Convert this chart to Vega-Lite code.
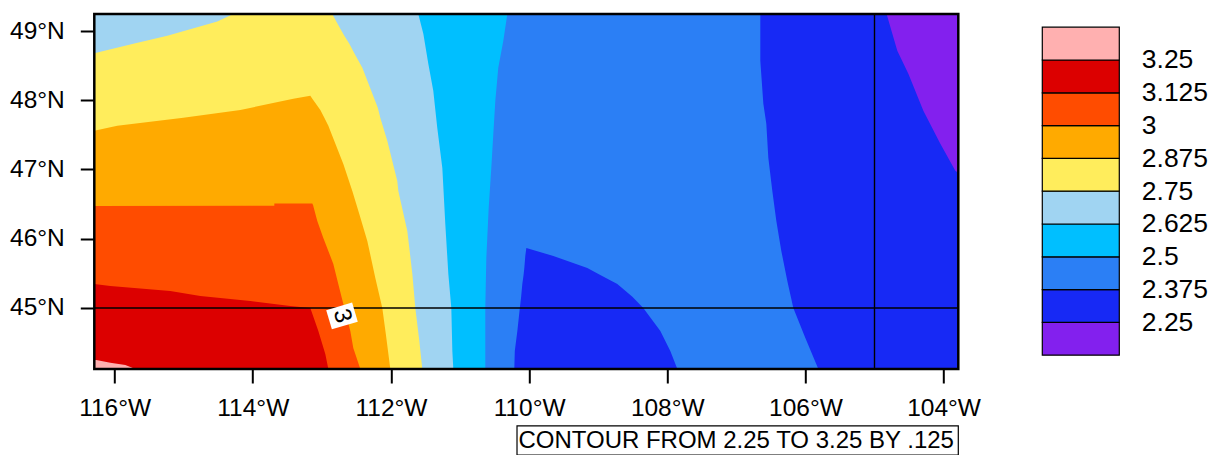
{"$schema":"https://vega.github.io/schema/vega-lite/v6.json","padding":{"left":9.3,"top":12,"right":2,"bottom":0},"background":"white","bounds":"flush","spacing":84,"config":{"font":"Liberation Sans","view":{"stroke":null}},"hconcat":[{"width":864,"height":355,"encoding":{"x":{"field":"a","type":"quantitative","title":null,"scale":{"domain":[-116.294,-103.787],"nice":false,"zero":false},"axis":{"values":[-116,-114,-112,-110,-108,-106,-104],"labelExpr":"abs(datum.value)+'°W'","grid":false,"domain":false,"tickSize":14,"tickWidth":2,"tickColor":"black","labelFontSize":24.5,"labelColor":"black","labelPadding":14,"labelFont":"Liberation Sans"}},"y":{"field":"lat","type":"quantitative","title":null,"scale":{"domain":[44.118,49.246],"nice":false,"zero":false},"axis":{"values":[45,46,47,48,49],"labelExpr":"datum.value+'°N'","grid":false,"domain":false,"tickSize":14,"tickWidth":2,"tickColor":"black","labelFontSize":24.5,"labelColor":"black","labelPadding":16,"labelFont":"Liberation Sans"}}},"layer":[{"data":{"values":[
{"r":"bg","v":2.25,"lat":49.246,"a":-116.294,"b":-103.787},{"r":"bg","v":2.25,"lat":44.118,"a":-116.294,"b":-103.787},
{"r":"purple","v":2.125,"lat":49.246,"a":-104.825,"b":-103.787},{"r":"purple","v":2.125,"lat":48.714,"a":-104.67,"b":-103.787},{"r":"purple","v":2.125,"lat":48.382,"a":-104.51,"b":-103.787},{"r":"purple","v":2.125,"lat":47.847,"a":-104.293,"b":-103.787},{"r":"purple","v":2.125,"lat":47.37,"a":-104.047,"b":-103.787},{"r":"purple","v":2.125,"lat":46.98,"a":-103.83,"b":-103.787},{"r":"purple","v":2.125,"lat":46.951,"a":-103.787,"b":-103.787},
{"r":"l2375","v":2.375,"lat":49.246,"a":-116.294,"b":-106.653},{"r":"l2375","v":2.375,"lat":48.569,"a":-116.294,"b":-106.653},{"r":"l2375","v":2.375,"lat":47.948,"a":-116.294,"b":-106.609},{"r":"l2375","v":2.375,"lat":47.659,"a":-116.294,"b":-106.566},{"r":"l2375","v":2.375,"lat":47.168,"a":-116.294,"b":-106.537},{"r":"l2375","v":2.375,"lat":46.691,"a":-116.294,"b":-106.479},{"r":"l2375","v":2.375,"lat":46.257,"a":-116.294,"b":-106.421},{"r":"l2375","v":2.375,"lat":45.824,"a":-116.294,"b":-106.349},{"r":"l2375","v":2.375,"lat":45.39,"a":-116.294,"b":-106.262},{"r":"l2375","v":2.375,"lat":45,"a":-116.294,"b":-106.175},{"r":"l2375","v":2.375,"lat":44.566,"a":-116.294,"b":-106.001},{"r":"l2375","v":2.375,"lat":44.118,"a":-116.294,"b":-105.813},
{"r":"blob","v":2.25,"lat":45.867,"a":-110.04,"b":-110.04},{"r":"blob","v":2.25,"lat":45.751,"a":-110.055,"b":-109.649},{"r":"blob","v":2.25,"lat":45.578,"a":-110.069,"b":-109.157},{"r":"blob","v":2.25,"lat":45.477,"a":-110.08,"b":-108.97},{"r":"blob","v":2.25,"lat":45.347,"a":-110.098,"b":-108.723},{"r":"blob","v":2.25,"lat":45.16,"a":-110.115,"b":-108.505},{"r":"blob","v":2.25,"lat":45,"a":-110.134,"b":-108.347},{"r":"blob","v":2.25,"lat":44.668,"a":-110.17,"b":-108.1},{"r":"blob","v":2.25,"lat":44.379,"a":-110.207,"b":-107.956},{"r":"blob","v":2.25,"lat":44.118,"a":-110.214,"b":-107.854},
{"r":"l25","v":2.5,"lat":49.246,"a":-116.294,"b":-110.315},{"r":"l25","v":2.5,"lat":48.858,"a":-116.294,"b":-110.373},{"r":"l25","v":2.5,"lat":48.468,"a":-116.294,"b":-110.446},{"r":"l25","v":2.5,"lat":47.991,"a":-116.294,"b":-110.489},{"r":"l25","v":2.5,"lat":47.514,"a":-116.294,"b":-110.518},{"r":"l25","v":2.5,"lat":47.023,"a":-116.294,"b":-110.547},{"r":"l25","v":2.5,"lat":46.445,"a":-116.294,"b":-110.585},{"r":"l25","v":2.5,"lat":45.723,"a":-116.294,"b":-110.619},{"r":"l25","v":2.5,"lat":45,"a":-116.294,"b":-110.634},{"r":"l25","v":2.5,"lat":44.118,"a":-116.294,"b":-110.634},
{"r":"l2625","v":2.625,"lat":49.246,"a":-116.294,"b":-111.604},{"r":"l2625","v":2.625,"lat":48.96,"a":-116.294,"b":-111.531},{"r":"l2625","v":2.625,"lat":48.526,"a":-116.294,"b":-111.459},{"r":"l2625","v":2.625,"lat":48.136,"a":-116.294,"b":-111.387},{"r":"l2625","v":2.625,"lat":47.601,"a":-116.294,"b":-111.329},{"r":"l2625","v":2.625,"lat":47.023,"a":-116.294,"b":-111.256},{"r":"l2625","v":2.625,"lat":46.214,"a":-116.294,"b":-111.213},{"r":"l2625","v":2.625,"lat":45.491,"a":-116.294,"b":-111.169},{"r":"l2625","v":2.625,"lat":45,"a":-116.294,"b":-111.126},{"r":"l2625","v":2.625,"lat":44.379,"a":-116.294,"b":-111.111},{"r":"l2625","v":2.625,"lat":44.118,"a":-116.294,"b":-111.097},
{"r":"l275","v":2.75,"lat":49.246,"a":-114.282,"b":-112.849},{"r":"l275","v":2.75,"lat":49.137,"a":-114.513,"b":-112.791},{"r":"l275","v":2.75,"lat":48.931,"a":-115.237,"b":-112.675},{"r":"l275","v":2.75,"lat":48.815,"a":-115.729,"b":-112.602},{"r":"l275","v":2.75,"lat":48.678,"a":-116.294,"b":-112.53},{"r":"l275","v":2.75,"lat":48.468,"a":-116.294,"b":-112.414},{"r":"l275","v":2.75,"lat":47.89,"a":-116.294,"b":-112.19},{"r":"l275","v":2.75,"lat":47.746,"a":-116.294,"b":-112.154},{"r":"l275","v":2.75,"lat":47.413,"a":-116.294,"b":-112.052},{"r":"l275","v":2.75,"lat":46.835,"a":-116.294,"b":-111.908},{"r":"l275","v":2.75,"lat":46.691,"a":-116.294,"b":-111.893},{"r":"l275","v":2.75,"lat":46.113,"a":-116.294,"b":-111.763},{"r":"l275","v":2.75,"lat":45.491,"a":-116.294,"b":-111.69},{"r":"l275","v":2.75,"lat":45,"a":-116.294,"b":-111.647},{"r":"l275","v":2.75,"lat":44.523,"a":-116.294,"b":-111.589},{"r":"l275","v":2.75,"lat":44.118,"a":-116.294,"b":-111.546},
{"r":"l2875","v":2.875,"lat":48.064,"a":-113.167,"b":-113.167},{"r":"l2875","v":2.875,"lat":48.02,"a":-113.413,"b":-113.138},{"r":"l2875","v":2.875,"lat":47.861,"a":-114.18,"b":-113.022},{"r":"l2875","v":2.875,"lat":47.746,"a":-115.005,"b":-112.964},{"r":"l2875","v":2.875,"lat":47.63,"a":-115.961,"b":-112.906},{"r":"l2875","v":2.875,"lat":47.558,"a":-116.294,"b":-112.878},{"r":"l2875","v":2.875,"lat":47.081,"a":-116.294,"b":-112.689},{"r":"l2875","v":2.875,"lat":46.691,"a":-116.294,"b":-112.559},{"r":"l2875","v":2.875,"lat":46.358,"a":-116.294,"b":-112.458},{"r":"l2875","v":2.875,"lat":45.968,"a":-116.294,"b":-112.342},{"r":"l2875","v":2.875,"lat":45.434,"a":-116.294,"b":-112.226},{"r":"l2875","v":2.875,"lat":45,"a":-116.294,"b":-112.125},{"r":"l2875","v":2.875,"lat":44.624,"a":-116.294,"b":-112.074},{"r":"l2875","v":2.875,"lat":44.118,"a":-116.294,"b":-112.009},
{"r":"l3","v":3,"lat":46.51,"a":-113.688,"b":-113.138},{"r":"l3","v":3,"lat":46.475,"a":-113.688,"b":-113.124},{"r":"l3","v":3,"lat":46.474,"a":-116.294,"b":-113.124},{"r":"l3","v":3,"lat":46.257,"a":-116.294,"b":-113.066},{"r":"l3","v":3,"lat":46.012,"a":-116.294,"b":-112.979},{"r":"l3","v":3,"lat":45.636,"a":-116.294,"b":-112.834},{"r":"l3","v":3,"lat":45.347,"a":-116.294,"b":-112.762},{"r":"l3","v":3,"lat":45.058,"a":-116.294,"b":-112.689},{"r":"l3","v":3,"lat":44.668,"a":-116.294,"b":-112.588},{"r":"l3","v":3,"lat":44.422,"a":-116.294,"b":-112.545},{"r":"l3","v":3,"lat":44.118,"a":-116.294,"b":-112.443},
{"r":"l3125","v":3.125,"lat":45.347,"a":-116.294,"b":-116.294},{"r":"l3125","v":3.125,"lat":45.318,"a":-116.294,"b":-116.062},{"r":"l3125","v":3.125,"lat":45.282,"a":-116.294,"b":-115.628},{"r":"l3125","v":3.125,"lat":45.246,"a":-116.294,"b":-115.194},{"r":"l3125","v":3.125,"lat":45.173,"a":-116.294,"b":-114.759},{"r":"l3125","v":3.125,"lat":45.13,"a":-116.294,"b":-114.325},{"r":"l3125","v":3.125,"lat":45.101,"a":-116.294,"b":-114.036},{"r":"l3125","v":3.125,"lat":45.029,"a":-116.294,"b":-113.457},{"r":"l3125","v":3.125,"lat":45,"a":-116.294,"b":-113.167},{"r":"l3125","v":3.125,"lat":44.668,"a":-116.294,"b":-113.051},{"r":"l3125","v":3.125,"lat":44.335,"a":-116.294,"b":-112.95},{"r":"l3125","v":3.125,"lat":44.118,"a":-116.294,"b":-112.906},
{"r":"l325","v":3.25,"lat":44.249,"a":-116.294,"b":-116.265},{"r":"l325","v":3.25,"lat":44.21,"a":-116.294,"b":-116.062},{"r":"l325","v":3.25,"lat":44.176,"a":-116.294,"b":-115.845},{"r":"l325","v":3.25,"lat":44.118,"a":-116.294,"b":-115.7}
]},"mark":{"type":"area","orient":"horizontal","interpolate":"linear"},"encoding":{"x2":{"field":"b"},"detail":{"field":"r"},"color":{"field":"v","type":"ordinal","legend":null,"scale":{"domain":[2.125,2.25,2.375,2.5,2.625,2.75,2.875,3,3.125,3.25],"range":["#8320EE","#1729F5","#2B7FF5","#00BFFF","#A0D4F2","#FFED5C","#FFAA00","#FF4C00","#DC0000","#FFB0B0"]}}}},
{"data":{"values":[{"a":-116.294,"b":-103.787,"lat":45}]},"mark":{"type":"rule","color":"black","strokeWidth":1.4},"encoding":{"x2":{"field":"b"}}},
{"data":{"values":[{"a":-105,"lat":49.246,"lat2":44.118}]},"mark":{"type":"rule","color":"black","strokeWidth":1.4},"encoding":{"y2":{"field":"lat2"}}},
{"data":{"values":[{"a":-112.896,"lat":44.829},{"a":-112.521,"lat":44.939}]},"mark":{"type":"line","color":"white","strokeWidth":20,"strokeCap":"butt","clip":false}},
{"data":{"values":[{"a":-112.708,"lat":44.884}]},"mark":{"type":"text","text":"3","fontSize":24,"angle":74,"color":"black","align":"center","baseline":"middle","font":"Liberation Sans"}},
{"data":{"values":[{"a":-116.294,"b":-103.787,"lat":49.246,"lat2":44.118}]},"mark":{"type":"rect","fill":null,"stroke":"black","strokeWidth":2.5,"clip":false},"encoding":{"x2":{"field":"b"},"y2":{"field":"lat2"}}},
{"data":{"values":[{"a":-110.175,"b":-103.787,"lat":43.295,"lat2":42.876}]},"mark":{"type":"rect","fill":"white","stroke":"black","strokeWidth":1.2,"clip":false},"encoding":{"x2":{"field":"b"},"y2":{"field":"lat2"}}},
{"data":{"values":[{"a":-103.85,"lat":43.085}]},"mark":{"type":"text","text":"CONTOUR FROM 2.25 TO 3.25 BY .125","fontSize":24,"color":"black","align":"right","baseline":"middle","font":"Liberation Sans","clip":false}}
]},
{"width":77,"height":355,"data":{"values":[{"v":2.125,"lo":2.125,"hi":2.25},{"v":2.25,"lo":2.25,"hi":2.375},{"v":2.375,"lo":2.375,"hi":2.5},{"v":2.5,"lo":2.5,"hi":2.625},{"v":2.625,"lo":2.625,"hi":2.75},{"v":2.75,"lo":2.75,"hi":2.875},{"v":2.875,"lo":2.875,"hi":3},{"v":3,"lo":3,"hi":3.125},{"v":3.125,"lo":3.125,"hi":3.25},{"v":3.25,"lo":3.25,"hi":3.375}]},"mark":{"type":"rect","stroke":"black","strokeWidth":1.2},"encoding":{"y":{"field":"lo","type":"quantitative","title":null,"scale":{"domain":[2.0724,3.4253],"nice":false,"zero":false},"axis":{"orient":"right","values":[2.25,2.375,2.5,2.625,2.75,2.875,3,3.125,3.25],"labelExpr":"''+datum.value","domain":false,"ticks":false,"grid":false,"labelPadding":22,"labelFontSize":26.5,"labelColor":"black","labelFont":"Liberation Sans"}},"y2":{"field":"hi"},"color":{"field":"v","type":"ordinal","legend":null,"scale":{"domain":[2.125,2.25,2.375,2.5,2.625,2.75,2.875,3,3.125,3.25],"range":["#8320EE","#1729F5","#2B7FF5","#00BFFF","#A0D4F2","#FFED5C","#FFAA00","#FF4C00","#DC0000","#FFB0B0"]}}}}
]}
